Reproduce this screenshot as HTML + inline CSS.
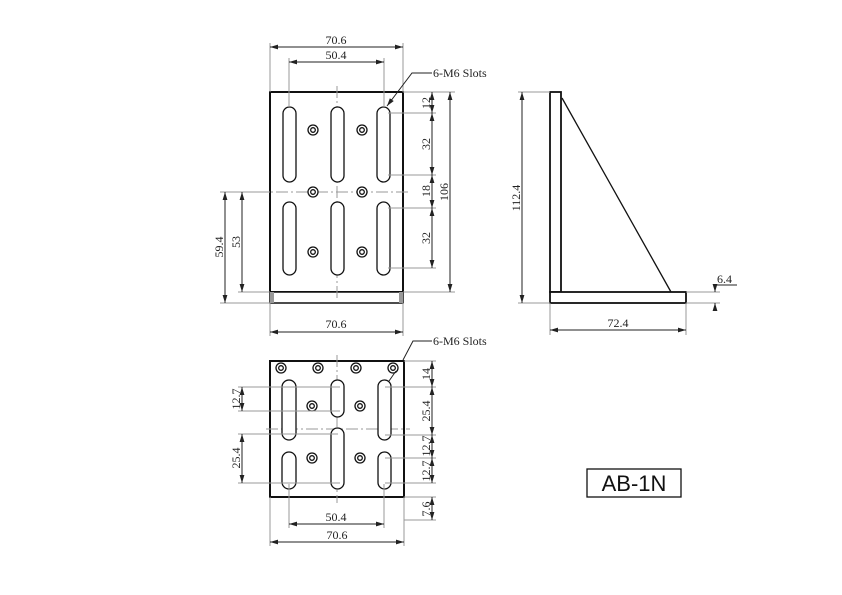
<!DOCTYPE html>
<html><head><meta charset="utf-8"><style>
html,body{margin:0;padding:0;background:#fff;width:842px;height:595px;overflow:hidden}
svg{display:block}
.t{font-family:"Liberation Serif",serif;font-size:12px;fill:#222}
.g{stroke:#999;stroke-width:1;fill:none}
.d{stroke:#222;stroke-width:1;fill:none}
.k{stroke:#111;stroke-width:1.3;fill:#fff}
.c{stroke:#999;stroke-width:1;stroke-dasharray:12,3,2,3;fill:none}
</style></head><body>
<svg width="842" height="595" viewBox="0 0 842 595" xmlns="http://www.w3.org/2000/svg">
<defs>
<marker id="a" viewBox="0 0 10 6" refX="10" refY="3" markerWidth="8" markerHeight="5" orient="auto-start-reverse"><path d="M0,0L10,3L0,6z" fill="#222"/></marker>
</defs>

<!-- ===== FRONT VIEW ===== -->
<rect x="270" y="92" width="133" height="200" fill="#fff" stroke="#111" stroke-width="2"/>
<rect x="270" y="292" width="133" height="11" fill="#fff" stroke="#111" stroke-width="1.5"/>
<rect x="270" y="292" width="4" height="11" fill="#999"/><rect x="399" y="292" width="4" height="11" fill="#999"/>
<line class="c" x1="337" y1="86" x2="337" y2="298"/>
<line class="c" x1="256" y1="192" x2="408" y2="192"/>
<g class="k">
<rect x="283" y="107" width="13" height="75" rx="6.5"/><rect x="331" y="107" width="13" height="75" rx="6.5"/><rect x="377" y="107" width="13" height="75" rx="6.5"/>
<rect x="283" y="202" width="13" height="73" rx="6.5"/><rect x="331" y="202" width="13" height="73" rx="6.5"/><rect x="377" y="202" width="13" height="73" rx="6.5"/>
</g>
<g class="k">
<circle cx="313" cy="130" r="5"/><circle cx="313" cy="130" r="2.3"/>
<circle cx="362" cy="130" r="5"/><circle cx="362" cy="130" r="2.3"/>
<circle cx="313" cy="192" r="5"/><circle cx="313" cy="192" r="2.3"/>
<circle cx="362" cy="192" r="5"/><circle cx="362" cy="192" r="2.3"/>
<circle cx="313" cy="252" r="5"/><circle cx="313" cy="252" r="2.3"/>
<circle cx="362" cy="252" r="5"/><circle cx="362" cy="252" r="2.3"/>
</g>
<!-- top dims -->
<line class="g" x1="270" y1="43" x2="270" y2="92"/><line class="g" x1="403" y1="43" x2="403" y2="92"/>
<line class="d" x1="270" y1="47" x2="403" y2="47" marker-start="url(#a)" marker-end="url(#a)"/>
<text class="t" x="336" y="44" text-anchor="middle">70.6</text>
<line class="g" x1="289" y1="58" x2="289" y2="107"/><line class="g" x1="384" y1="58" x2="384" y2="107"/>
<line class="d" x1="289" y1="62" x2="384" y2="62" marker-start="url(#a)" marker-end="url(#a)"/>
<text class="t" x="336" y="59" text-anchor="middle">50.4</text>
<!-- leader -->
<polyline class="d" points="432,73 412,73 387,106" marker-end="url(#a)"/>
<text class="t" x="433" y="77">6-M6 Slots</text>
<!-- right dims -->
<line class="g" x1="403" y1="92" x2="455" y2="92"/>
<line class="g" x1="388" y1="113" x2="436" y2="113"/>
<line class="g" x1="388" y1="175" x2="436" y2="175"/>
<line class="g" x1="388" y1="208" x2="436" y2="208"/>
<line class="g" x1="388" y1="268" x2="436" y2="268"/>
<line class="g" x1="403" y1="292" x2="455" y2="292"/>
<line class="d" x1="432" y1="92" x2="432" y2="113" marker-start="url(#a)" marker-end="url(#a)"/>
<line class="d" x1="432" y1="113" x2="432" y2="175" marker-start="url(#a)" marker-end="url(#a)"/>
<line class="d" x1="432" y1="175" x2="432" y2="208" marker-start="url(#a)" marker-end="url(#a)"/>
<line class="d" x1="432" y1="208" x2="432" y2="268" marker-start="url(#a)" marker-end="url(#a)"/>
<line class="d" x1="450" y1="92" x2="450" y2="292" marker-start="url(#a)" marker-end="url(#a)"/>
<text class="t" transform="translate(430,103) rotate(-90)" text-anchor="middle">12</text>
<text class="t" transform="translate(430,144) rotate(-90)" text-anchor="middle">32</text>
<text class="t" transform="translate(430,191) rotate(-90)" text-anchor="middle">18</text>
<text class="t" transform="translate(430,238) rotate(-90)" text-anchor="middle">32</text>
<text class="t" transform="translate(448,192) rotate(-90)" text-anchor="middle">106</text>
<!-- left dims -->
<line class="g" x1="220" y1="192" x2="270" y2="192"/>
<line class="g" x1="238" y1="292" x2="270" y2="292"/>
<line class="g" x1="220" y1="303" x2="270" y2="303"/>
<line class="d" x1="225" y1="192" x2="225" y2="303" marker-start="url(#a)" marker-end="url(#a)"/>
<line class="d" x1="242" y1="192" x2="242" y2="292" marker-start="url(#a)" marker-end="url(#a)"/>
<text class="t" transform="translate(223,247) rotate(-90)" text-anchor="middle">59.4</text>
<text class="t" transform="translate(240,242) rotate(-90)" text-anchor="middle">53</text>
<!-- bottom dim -->
<line class="g" x1="270" y1="303" x2="270" y2="336"/><line class="g" x1="403" y1="303" x2="403" y2="336"/>
<line class="d" x1="270" y1="332" x2="403" y2="332" marker-start="url(#a)" marker-end="url(#a)"/>
<text class="t" x="336" y="328" text-anchor="middle">70.6</text>

<!-- ===== SIDE VIEW ===== -->
<rect x="550" y="92" width="11" height="200" fill="#fff" stroke="#111" stroke-width="1.8"/>
<rect x="550" y="292" width="136" height="11" fill="#fff" stroke="#111" stroke-width="1.8"/>
<line x1="562" y1="98" x2="671" y2="292" stroke="#111" stroke-width="1.3"/>
<line class="g" x1="518" y1="92" x2="550" y2="92"/><line class="g" x1="518" y1="303" x2="550" y2="303"/>
<line class="d" x1="522" y1="92" x2="522" y2="303" marker-start="url(#a)" marker-end="url(#a)"/>
<text class="t" transform="translate(520,198) rotate(-90)" text-anchor="middle">112.4</text>
<line class="g" x1="550" y1="303" x2="550" y2="335"/><line class="g" x1="686" y1="303" x2="686" y2="335"/>
<line class="d" x1="550" y1="330" x2="686" y2="330" marker-start="url(#a)" marker-end="url(#a)"/>
<text class="t" x="618" y="327" text-anchor="middle">72.4</text>
<line class="g" x1="686" y1="292" x2="720" y2="292"/><line class="g" x1="686" y1="303" x2="720" y2="303"/>
<line class="d" x1="715" y1="284" x2="715" y2="292" marker-end="url(#a)"/>
<line class="d" x1="715" y1="311" x2="715" y2="303" marker-end="url(#a)"/>
<polyline class="d" points="715,285 737,285"/>
<text class="t" x="717" y="283">6.4</text>

<!-- ===== BOTTOM VIEW ===== -->
<rect x="270" y="361" width="134" height="136" fill="#fff" stroke="#111" stroke-width="2"/>
<line class="c" x1="337" y1="355" x2="337" y2="503"/>
<line class="c" x1="266" y1="429" x2="410" y2="429"/>
<g class="k">
<rect x="282" y="380" width="14" height="60" rx="7"/><rect x="331" y="380" width="13" height="37" rx="6.5"/><rect x="378" y="380" width="13" height="60" rx="6.5"/>
<rect x="282" y="452" width="14" height="37" rx="7"/><rect x="331" y="428" width="13" height="61" rx="6.5"/><rect x="378" y="452" width="13" height="37" rx="6.5"/>
</g>
<g class="k">
<circle cx="281" cy="368" r="5"/><circle cx="281" cy="368" r="2.3"/>
<circle cx="318" cy="368" r="5"/><circle cx="318" cy="368" r="2.3"/>
<circle cx="356" cy="368" r="5"/><circle cx="356" cy="368" r="2.3"/>
<circle cx="393" cy="368" r="5"/><circle cx="393" cy="368" r="2.3"/>
<circle cx="312" cy="406" r="5"/><circle cx="312" cy="406" r="2.3"/>
<circle cx="360" cy="406" r="5"/><circle cx="360" cy="406" r="2.3"/>
<circle cx="312" cy="458" r="5"/><circle cx="312" cy="458" r="2.3"/>
<circle cx="360" cy="458" r="5"/><circle cx="360" cy="458" r="2.3"/>
</g>
<polyline class="d" points="432,341 413,341 403,360"/>
<line class="d" x1="396" y1="371" x2="389" y2="381"/>
<text class="t" x="433" y="345">6-M6 Slots</text>
<!-- right dims -->
<line class="g" x1="404" y1="361" x2="436" y2="361"/>
<line class="g" x1="385" y1="387" x2="436" y2="387"/>
<line class="g" x1="385" y1="435" x2="436" y2="435"/>
<line class="g" x1="385" y1="458" x2="436" y2="458"/>
<line class="g" x1="385" y1="483" x2="436" y2="483"/>
<line class="g" x1="404" y1="497" x2="436" y2="497"/>
<line class="g" x1="404" y1="520" x2="436" y2="520"/>
<line class="d" x1="432" y1="361" x2="432" y2="387" marker-start="url(#a)" marker-end="url(#a)"/>
<line class="d" x1="432" y1="387" x2="432" y2="435" marker-start="url(#a)" marker-end="url(#a)"/>
<line class="d" x1="432" y1="435" x2="432" y2="458" marker-start="url(#a)" marker-end="url(#a)"/>
<line class="d" x1="432" y1="458" x2="432" y2="483" marker-start="url(#a)" marker-end="url(#a)"/>
<line class="d" x1="432" y1="497" x2="432" y2="520" marker-start="url(#a)" marker-end="url(#a)"/>
<text class="t" transform="translate(430,374) rotate(-90)" text-anchor="middle">14</text>
<text class="t" transform="translate(430,411) rotate(-90)" text-anchor="middle">25.4</text>
<text class="t" transform="translate(430,446) rotate(-90)" text-anchor="middle">12.7</text>
<text class="t" transform="translate(430,471) rotate(-90)" text-anchor="middle">12.7</text>
<text class="t" transform="translate(430,509) rotate(-90)" text-anchor="middle">7.6</text>
<!-- left dims -->
<line class="g" x1="238" y1="387" x2="340" y2="387"/>
<line class="g" x1="238" y1="411" x2="340" y2="411"/>
<line class="g" x1="238" y1="434" x2="338" y2="434"/>
<line class="g" x1="238" y1="483" x2="340" y2="483"/>
<line class="d" x1="242" y1="387" x2="242" y2="411" marker-start="url(#a)" marker-end="url(#a)"/>
<line class="d" x1="242" y1="434" x2="242" y2="483" marker-start="url(#a)" marker-end="url(#a)"/>
<text class="t" transform="translate(240,399) rotate(-90)" text-anchor="middle">12.7</text>
<text class="t" transform="translate(240,458) rotate(-90)" text-anchor="middle">25.4</text>
<!-- bottom dims -->
<line class="g" x1="289" y1="484" x2="289" y2="528"/><line class="g" x1="384" y1="484" x2="384" y2="528"/>
<line class="d" x1="289" y1="524" x2="384" y2="524" marker-start="url(#a)" marker-end="url(#a)"/>
<text class="t" x="336" y="521" text-anchor="middle">50.4</text>
<line class="g" x1="270" y1="497" x2="270" y2="546"/><line class="g" x1="404" y1="497" x2="404" y2="546"/>
<line class="d" x1="270" y1="542" x2="404" y2="542" marker-start="url(#a)" marker-end="url(#a)"/>
<text class="t" x="337" y="539" text-anchor="middle">70.6</text>

<!-- label box -->
<rect x="587" y="469" width="94" height="28" fill="#fff" stroke="#111" stroke-width="1.3"/>
<text x="634" y="491" text-anchor="middle" font-family="Liberation Sans, sans-serif" font-size="22" fill="#111">AB-1N</text>
</svg>
</body></html>
